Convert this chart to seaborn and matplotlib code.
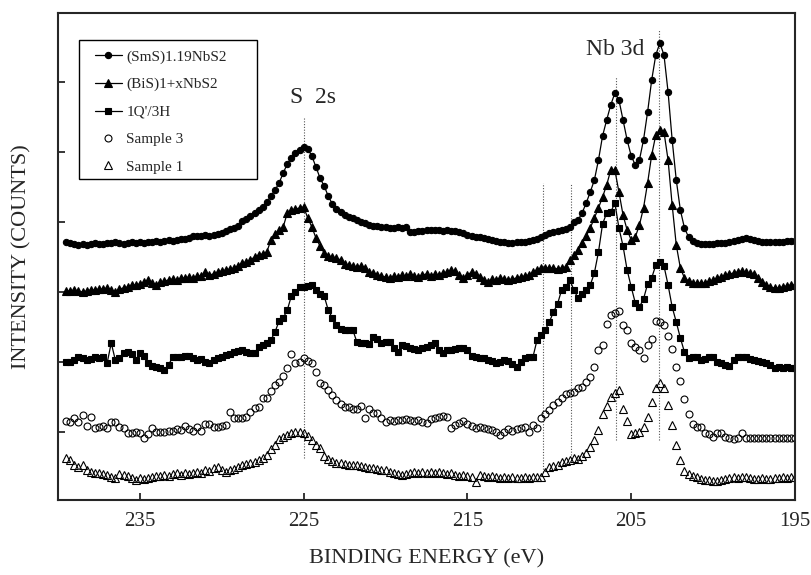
import numpy as np
import pandas as pd
import seaborn as sns
import matplotlib.pyplot as plt
from matplotlib.patches import Rectangle

# binding energy grid (eV), 0.25 eV steps
energy = np.round(np.arange(239.5, 194.9, -0.25), 2)

# intensities in arbitrary counts (offset spectra)
sms = [260, 259, 258, 257, 258, 257, 258, 259, 258, 258,
       259, 259, 260, 259, 258, 259, 260, 259, 260, 259,
       260, 260, 261, 260, 261, 262, 261, 262, 263, 263,
       264, 266, 266, 266, 267, 266, 267, 268, 269, 271,
       273, 274, 276, 281, 283, 286, 289, 292, 295, 300,
       306, 312, 319, 329, 338, 344, 349, 352, 355, 353,
       346, 335, 324, 316, 306, 298, 293, 290, 287, 285,
       284, 282, 280, 279, 277, 276, 276, 275, 275, 274,
       274, 275, 274, 275, 270, 270, 271, 271, 272, 272,
       272, 272, 271, 272, 271, 271, 270, 269, 267, 266,
       265, 265, 264, 263, 262, 261, 260, 260, 259, 259,
       260, 260, 260, 261, 262, 263, 265, 267, 269, 270,
       271, 272, 273, 275, 280, 282, 289, 299, 310, 322,
       342, 366, 382, 397, 409, 402, 382, 362, 346, 337,
       342, 362, 390, 422, 447, 459, 447, 410, 362, 322,
       292, 274, 265, 261, 259, 258, 258, 258, 258, 259,
       259, 259, 260, 261, 262, 263, 264, 263, 262, 261,
       260, 260, 260, 260, 260, 260, 261, 261, 261]

bis = [211, 211, 212, 211, 210, 211, 212, 212, 213, 213,
       214, 212, 210, 213, 214, 215, 217, 217, 218, 220,
       222, 219, 217, 220, 221, 222, 223, 222, 224, 224,
       225, 224, 226, 226, 230, 227, 228, 230, 231, 232,
       233, 234, 236, 239, 240, 242, 245, 247, 248, 250,
       262, 268, 272, 275, 289, 292, 293, 294, 295, 284,
       275, 264, 256, 249, 246, 245, 244, 242, 238, 237,
       236, 235, 236, 234, 230, 229, 227, 226, 225, 224,
       226, 225, 227, 226, 228, 226, 225, 227, 228, 226,
       228, 227, 229, 230, 232, 231, 227, 224, 227, 230,
       228, 225, 222, 220, 223, 222, 224, 223, 222, 223,
       224, 225, 226, 227, 230, 232, 234, 234, 234, 234,
       233, 234, 235, 242, 247, 252, 259, 266, 274, 284,
       294, 305, 317, 332, 332, 310, 287, 272, 262, 265,
       277, 294, 319, 347, 367, 372, 370, 342, 297, 257,
       234, 224, 221, 219, 219, 219, 219, 221, 222, 224,
       225, 227, 228, 229, 230, 231, 230, 229, 228, 224,
       220, 217, 215, 214, 214, 215, 216, 217, 217]

q3h = [140, 140, 142, 145, 144, 142, 143, 145, 144, 145,
       139, 159, 142, 144, 149, 150, 148, 142, 149, 146,
       139, 136, 135, 134, 132, 137, 145, 145, 145, 146,
       146, 144, 142, 143, 140, 139, 142, 144, 145, 147,
       148, 150, 151, 152, 150, 149, 149, 155, 157, 159,
       162, 170, 181, 184, 192, 206, 210, 215, 215, 216,
       217, 212, 208, 206, 192, 184, 177, 173, 172, 172,
       172, 160, 159, 159, 158, 165, 163, 159, 160, 160,
       154, 150, 157, 156, 154, 153, 152, 154, 155, 157,
       159, 152, 149, 152, 152, 153, 154, 154, 152, 146,
       145, 144, 144, 142, 141, 139, 140, 142, 141, 138,
       135, 140, 144, 145, 145, 162, 167, 172, 180, 190,
       198, 212, 215, 222, 212, 204, 208, 212, 217, 229,
       250, 278, 289, 290, 299, 274, 256, 232, 215, 199,
       195, 203, 218, 224, 237, 240, 236, 217, 195, 180,
       164, 150, 144, 145, 145, 142, 143, 145, 145, 140,
       139, 137, 136, 142, 145, 145, 145, 143, 142, 141,
       140, 139, 137, 134, 135, 134, 135, 134, 134]

sample3 = [81, 80, 84, 80, 87, 76, 85, 74, 75, 76,
           74, 80, 80, 75, 74, 69, 69, 70, 69, 64,
           68, 74, 70, 70, 70, 71, 71, 73, 72, 76,
           73, 71, 75, 71, 78, 78, 75, 75, 76, 77,
           90, 84, 84, 84, 85, 90, 94, 95, 104, 104,
           111, 117, 120, 126, 134, 148, 139, 140, 144, 141,
           139, 130, 119, 117, 112, 107, 102, 98, 95, 95,
           93, 93, 96, 84, 93, 89, 89, 84, 80, 82,
           81, 82, 82, 83, 82, 81, 82, 80, 79, 83,
           84, 85, 86, 85, 74, 77, 79, 81, 78, 76,
           74, 75, 74, 73, 72, 70, 67, 70, 73, 71,
           73, 74, 75, 70, 77, 74, 84, 88, 92, 97,
           100, 104, 108, 109, 110, 114, 115, 120, 125, 135,
           152, 157, 178, 187, 189, 191, 177, 172, 159, 155,
           152, 144, 157, 163, 181, 180, 177, 166, 153, 135,
           121, 103, 88, 78, 75, 75, 69, 68, 65, 69,
           69, 65, 64, 63, 64, 69, 64, 64, 64, 64,
           64, 64, 64, 64, 64, 64, 64, 64, 64]

sample1 = [44, 42, 37, 35, 37, 32, 30, 29, 29, 28,
           27, 25, 24, 28, 27, 26, 24, 22, 24, 23,
           24, 25, 26, 26, 27, 26, 28, 29, 27, 29,
           28, 29, 30, 29, 32, 31, 34, 35, 32, 30,
           32, 33, 35, 37, 38, 39, 40, 42, 44, 47,
           53, 57, 63, 65, 67, 69, 70, 70, 69, 66,
           62, 57, 54, 46, 43, 41, 39, 39, 38, 37,
           37, 37, 36, 35, 34, 34, 33, 32, 32, 30,
           29, 28, 27, 28, 29, 30, 29, 30, 29, 30,
           29, 30, 29, 28, 29, 27, 26, 27, 26, 25,
           20, 27, 26, 25, 26, 25, 24, 25, 24, 25,
           24, 24, 25, 24, 25, 25, 25, 30, 35, 36,
           37, 40, 41, 42, 44, 43, 46, 49, 55, 62,
           72, 88, 96, 105, 109, 112, 93, 81, 68, 69,
           70, 75, 85, 100, 114, 119, 114, 97, 77, 57,
           42, 31, 28, 26, 25, 23, 22, 22, 21, 21,
           22, 23, 24, 25, 24, 25, 25, 24, 23, 23,
           24, 23, 23, 24, 24, 25, 24, 25, 25]

labels = ["(SmS)1.19NbS2", "(BiS)1+xNbS2", "1Q'/3H", "Sample 3", "Sample 1"]
series = [sms, bis, q3h, sample3, sample1]

# dotted guide lines: (energy, low, high)
guides = [(225.0, 44, 384), (205.9, 62, 425), (203.3, 62, 472),
          (210.4, 30, 319), (208.7, 47, 319)]

df = pd.DataFrame({
    "energy": np.tile(energy, len(series)),
    "counts": np.concatenate(series),
    "sample": np.repeat(labels, len(energy)),
})

sns.set_style("ticks")
plt.rcParams["font.family"] = ["Liberation Serif", "DejaVu Serif"]

fig = plt.figure(figsize=(8.11, 5.75), dpi=100)
ax = fig.add_axes([58 / 811, 1 - 500 / 575, 737 / 811, 487 / 575])

styles = {
    labels[0]: dict(marker="o", ms=4.5, mfc="black", ls="-", lw=0.9),
    labels[1]: dict(marker="^", ms=5.3, mfc="black", ls="-", lw=0.9),
    labels[2]: dict(marker="s", ms=4.9, mfc="black", ls="-", lw=0.9),
    labels[3]: dict(marker="o", ms=5.0, mfc="none", ls="none"),
    labels[4]: dict(marker="^", ms=5.2, mfc="none", ls="none"),
}

for g in guides:
    ax.vlines(g[0], g[1], g[2], colors="#555555", linestyles=(0, (1, 1.5)), lw=0.8)

for name in labels:
    sub = df[df["sample"] == name]
    sns.lineplot(data=sub, x="energy", y="counts", ax=ax, color="black",
                 estimator=None, sort=False, label=name,
                 mec="black", mew=0.8, **styles[name])

ax.set_xlim(240, 195)
ax.set_ylim(2, 489)
ax.set_xticks([235, 225, 215, 205, 195])
ax.set_yticks([70, 140, 210, 280, 350, 420])
ax.set_yticklabels([])
ax.tick_params(direction="in", length=5, width=1.3, labelsize=15, pad=9)
for s in ax.spines.values():
    s.set_linewidth(1.5)

ax.set_xlabel("BINDING ENERGY (eV)", fontsize=16)
ax.set_ylabel("INTENSITY (COUNTS)", fontsize=16)
ax.xaxis.set_label_coords(0.5, -0.102)
ax.yaxis.set_label_coords(-0.036, 0.5)

ax.text(224.45, 399, "S  2s", fontsize=17, ha="center", va="baseline")
ax.text(205.98, 447, "Nb 3d", fontsize=17, ha="center", va="baseline")

# legend box drawn separately, entries placed inside it
fig.patches.append(Rectangle((79 / 811, 1 - 179 / 575), 178 / 811, 139 / 575,
                             transform=fig.transFigure, fill=False,
                             edgecolor="black", lw=1.0))
leg = ax.legend(loc="upper left", bbox_to_anchor=(95 / 811, 1 - 50 / 575),
                bbox_transform=fig.transFigure, borderaxespad=0, fontsize=11,
                frameon=False, handlelength=1.75, handletextpad=0.3,
                labelspacing=0.9, borderpad=0, numpoints=1)

fig.savefig("out.png", dpi=100)
